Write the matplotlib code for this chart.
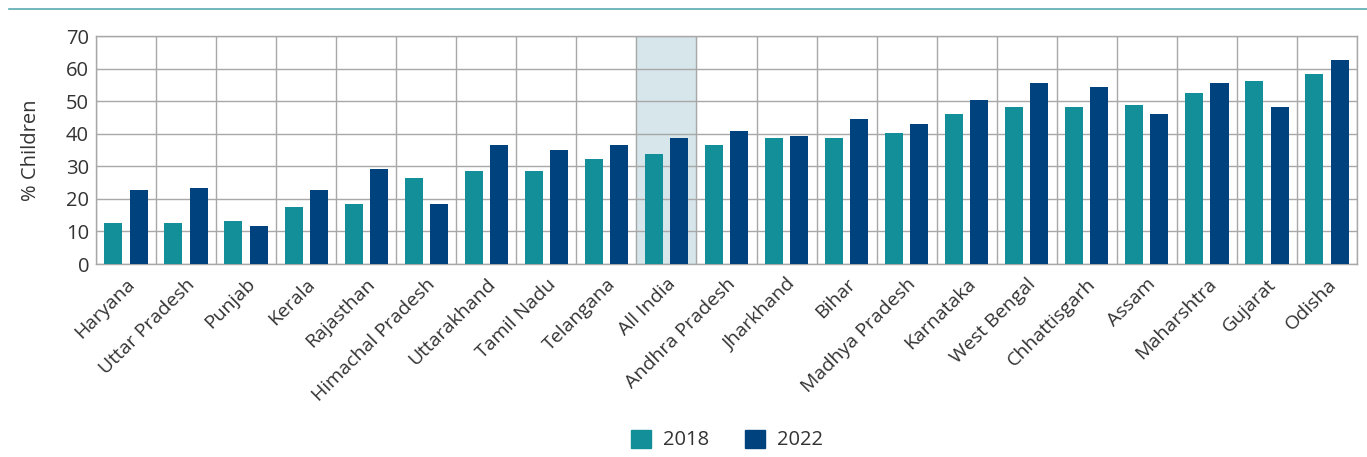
import matplotlib.pyplot as plt
import numpy as np
from matplotlib.lines import Line2D
from matplotlib.patches import Patch

plt.rcParams["font.family"] = ["Open Sans", "DejaVu Sans"]

STATES = [
    "Haryana", "Uttar Pradesh", "Punjab", "Kerala", "Rajasthan", "Himachal Pradesh",
    "Uttarakhand", "Tamil Nadu", "Telangana", "All India", "Andhra Pradesh", "Jharkhand",
    "Bihar", "Madhya Pradesh", "Karnataka", "West Bengal", "Chhattisgarh", "Assam",
    "Maharshtra", "Gujarat", "Odisha",
]
VALUES_2018 = [12.6, 12.6, 13.3, 17.5, 18.5, 26.4, 28.7, 28.7, 32.1, 33.8, 36.5,
               38.7, 38.7, 40.2, 46.2, 48.2, 48.2, 48.9, 52.5, 56.2, 58.4]
VALUES_2022 = [22.7, 23.3, 11.7, 22.7, 29.2, 18.5, 36.5, 35.0, 36.5, 38.7, 40.8,
               39.3, 44.5, 43.1, 50.4, 55.6, 54.2, 46.2, 55.6, 48.2, 62.7]
Y_TICKS = [0, 10, 20, 30, 40, 50, 60, 70]

TEAL = "#138F9A"
NAVY = "#00427E"
GRID = "#A8A8A8"
TEXT = "#333333"

fig = plt.figure(figsize=(13.67, 4.57), dpi=100)
ax = fig.add_axes([0.0702, 0.4223, 0.9225, 0.4989])

x = np.arange(len(STATES))
hl = STATES.index("All India")
ax.axvspan(hl - 0.5, hl + 0.5, color="#D6E6EA", zorder=0)

ax.bar(x - 0.21, VALUES_2018, width=0.3, color=TEAL, zorder=3)
ax.bar(x + 0.21, VALUES_2022, width=0.3, color=NAVY, zorder=3)

ax.set_xlim(-0.5, len(STATES) - 0.5)
ax.set_ylim(0, 70)
ax.set_yticks(Y_TICKS)
ax.set_xticks(x)
ax.set_xticklabels(STATES, rotation=45, ha="right", rotation_mode="anchor",
                   fontsize=14, color=TEXT)
ax.set_xticks(np.arange(len(STATES) + 1) - 0.5, minor=True)
ax.tick_params(axis="x", which="both", length=0, pad=8)
ax.tick_params(axis="y", length=0, labelsize=14.5, labelcolor=TEXT, pad=5)
ax.grid(axis="y", color=GRID, lw=1.0, zorder=1)
ax.grid(axis="x", which="minor", color=GRID, lw=1.0, zorder=1)
ax.grid(axis="x", which="major", visible=False)
for s in ax.spines.values():
    s.set_color(GRID)
    s.set_linewidth(1.0)
ax.set_ylabel("% Children", fontsize=14.5, color=TEXT, labelpad=18)

fig.add_artist(Line2D([9 / 1367, 1.0], [1 - 9 / 457] * 2, color="#5AAAB0", lw=1.2))

handles = [Patch(color=TEAL, label="2018"), Patch(color=NAVY, label="2022")]
fig.legend(handles=handles, loc="center", bbox_to_anchor=(727 / 1367, 1 - 440 / 457),
           ncol=2, frameon=False, fontsize=14.5, handlelength=1.0, handleheight=1.0,
           columnspacing=1.8, handletextpad=0.6, labelcolor=TEXT)

fig.savefig("out.png", dpi=100)
